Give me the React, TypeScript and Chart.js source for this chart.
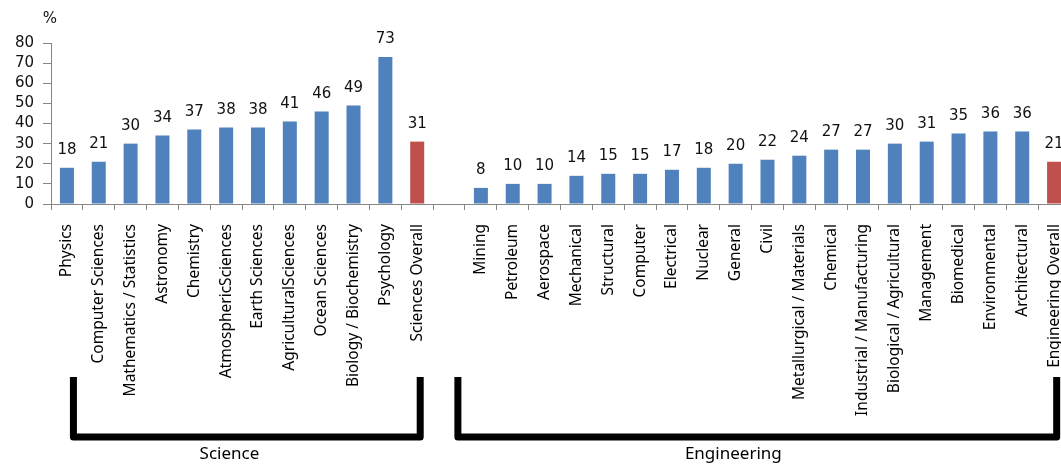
import React, { useEffect, useRef } from 'react';
import { Chart, registerables } from 'chart.js';

Chart.register(...registerables);

const categories: string[] = [
  'Physics', 'Computer Sciences', 'Mathematics / Statistics', 'Astronomy', 'Chemistry',
  'AtmosphericSciences', 'Earth Sciences', 'AgriculturalSciences', 'Ocean Sciences',
  'Biology / Biochemistry', 'Psychology', 'Sciences Overall',
  '',
  'Mining', 'Petroleum', 'Aerospace', 'Mechanical', 'Structural', 'Computer', 'Electrical',
  'Nuclear', 'General', 'Civil', 'Metallurgical / Materials', 'Chemical',
  'Industrial / Manufacturing', 'Biological / Agricultural', 'Management', 'Biomedical',
  'Environmental', 'Architectural', 'Engineering Overall',
];

const values: (number | null)[] = [
  18, 21, 30, 34, 37, 38, 38, 41, 46, 49, 73, 31,
  null,
  8, 10, 10, 14, 15, 15, 17, 18, 20, 22, 24, 27, 27, 30, 31, 35, 36, 36, 21,
];

const overallIndices: number[] = [11, 31];

const yTicks: number[] = [0, 10, 20, 30, 40, 50, 60, 70, 80];

const groups = [
  { name: 'Science', first: 0, last: 11 },
  { name: 'Engineering', first: 13, last: 31 },
];

const BLUE = '#4F81BD';
const RED = '#C0504D';

export default function App() {
  const ref = useRef<HTMLCanvasElement | null>(null);

  useEffect(() => {
    if (!ref.current) return;
    const colors = values.map((_, i) => (overallIndices.includes(i) ? RED : BLUE));

    const valueLabels = {
      id: 'valueLabels',
      afterDatasetsDraw(chart: any) {
        const ctx = chart.ctx;
        const meta = chart.getDatasetMeta(0);
        ctx.save();
        ctx.font = '15px "DejaVu Sans"';
        ctx.fillStyle = '#111';
        ctx.textAlign = 'center';
        ctx.textBaseline = 'bottom';
        meta.data.forEach((bar: any, i: number) => {
          const v = values[i];
          if (v === null || v === undefined) return;
          ctx.fillText(String(v), bar.x, bar.y - 10);
        });
        ctx.restore();
      },
    };

    const extras = {
      id: 'extras',
      afterDraw(chart: any) {
        const ctx = chart.ctx;
        const xs = chart.scales.x;
        ctx.save();
        ctx.font = '15px "DejaVu Sans"';
        ctx.fillStyle = '#111';
        ctx.textAlign = 'center';
        ctx.textBaseline = 'middle';
        ctx.fillText('%', chart.chartArea.left - 1, 19);

        const offs = [
          { l: 6.5, r: 3, t: 0.45 },
          { l: -23, r: 2.6, t: 0.46 },
        ];
        groups.forEach((g, gi) => {
          const left = xs.getPixelForValue(g.first) + offs[gi].l;
          const right = xs.getPixelForValue(g.last) + offs[gi].r;
          ctx.strokeStyle = '#000';
          ctx.lineWidth = 7;
          ctx.lineJoin = 'round';
          ctx.lineCap = 'butt';
          ctx.beginPath();
          ctx.moveTo(left, 377);
          ctx.lineTo(left, 437);
          ctx.lineTo(right, 437);
          ctx.lineTo(right, 377);
          ctx.stroke();
          ctx.font = '17px "Noto Sans"';
          ctx.fillStyle = '#000';
          ctx.textAlign = 'center';
          ctx.textBaseline = 'middle';
          ctx.fillText(g.name, left + (right - left) * offs[gi].t, 454);
        });
        ctx.restore();
      },
    };

    const chart = new Chart(ref.current, {
      type: 'bar',
      data: {
        labels: categories,
        datasets: [
          {
            data: values as any,
            backgroundColor: colors,
            borderColor: colors,
            borderWidth: 0,
            categoryPercentage: 1,
            barPercentage: 0.44,
          },
        ],
      },
      options: {
        responsive: false,
        animation: false,
        layout: { padding: { top: 43, right: 5, left: 0, bottom: 0 } },
        plugins: {
          legend: { display: false },
          tooltip: { enabled: false },
        },
        scales: {
          x: {
            offset: true,
            afterFit(scale: any) {
              scale.height = 262;
              scale.paddingLeft = 0;
              scale.paddingRight = 0;
            },
            grid: {
              display: true,
              drawOnChartArea: false,
              drawTicks: true,
              tickLength: 6,
              color: '#868686',
              offset: true,
            },
            border: { color: '#868686', width: 1 },
            ticks: {
              autoSkip: false,
              minRotation: 90,
              maxRotation: 90,
              padding: 14,
              color: '#000',
              font: { family: '"Noto Sans"', size: 15.5 },
            },
          },
          y: {
            min: 0,
            max: 80,
            afterFit(scale: any) {
              scale.width = 51;
            },
            afterBuildTicks(scale: any) {
              scale.ticks = yTicks.map((v) => ({ value: v }));
            },
            grid: {
              display: true,
              drawOnChartArea: false,
              drawTicks: true,
              tickLength: 8,
              color: '#868686',
            },
            border: { color: '#868686', width: 1 },
            ticks: {
              autoSkip: false,
              padding: 9,
              color: '#111',
              font: { family: '"DejaVu Sans"', size: 15 },
            },
          },
        },
      },
      plugins: [valueLabels, extras],
    });

    return () => chart.destroy();
  }, []);

  return (
    <div
      style={{
        position: 'fixed',
        left: 0,
        top: 0,
        width: 1061,
        height: 466,
        overflow: 'hidden',
        background: '#fff',
      }}
    >
      <canvas ref={ref} width={1075} height={466} style={{ display: 'block' }} />
    </div>
  );
}
